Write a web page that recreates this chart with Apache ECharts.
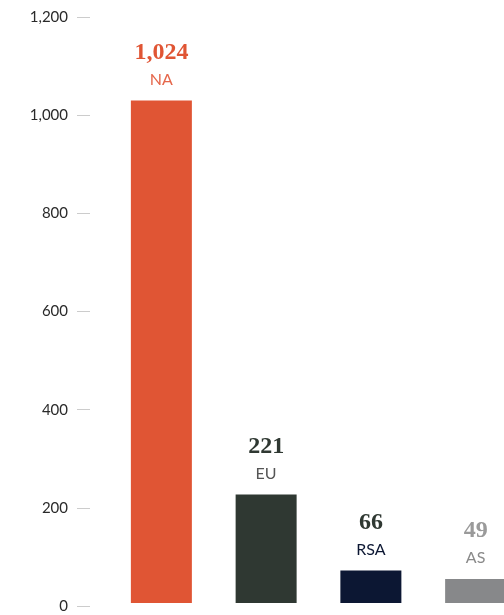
<!DOCTYPE html>
<html>
<head>
<meta charset="utf-8">
<script src="https://cdn.jsdelivr.net/npm/echarts@6/dist/echarts.min.js"></script>
<style>html,body{margin:0;padding:0;background:#fff}#c{width:504px;height:615px}</style>
</head>
<body>
<div id="c"></div>
<script>
var categories = ['NA', 'EU', 'RSA', 'AS'];
var values = [1024, 221, 66, 49];
var barColors = ['#E05534', '#2F3832', '#0C1733', '#87888A'];
var valueColors = ['#E05534', '#2F3832', '#2F3832', '#9A9A9A'];
var nameColors = ['#E5664A', '#555555', '#0C1733', '#8A8A8A'];
var yMin = 0, yMax = 1200, yStep = 200;

var rich = {};
categories.forEach(function (c, i) {
  rich['v' + i] = { fontFamily: 'Liberation Serif', fontWeight: 'bold', fontSize: 24, color: valueColors[i], lineHeight: 28, align: 'center' };
  rich['c' + i] = { fontFamily: 'Lato', fontSize: 16, color: nameColors[i], lineHeight: 26, align: 'center' };
});

var chart = echarts.init(document.getElementById('c'), null, { renderer: 'canvas' });
chart.setOption({
  animation: false,
  grid: [
    { left: 109, width: 419, top: 14, bottom: 12, outerBoundsMode: 'none', containLabel: false },
    { left: 90, right: 10, top: 17, bottom: 9 }
  ],
  xAxis: [
    { type: 'category', gridIndex: 0, data: categories, show: false },
    { type: 'value', gridIndex: 1, show: false, min: 0, max: 1 }
  ],
  yAxis: [
    { type: 'value', gridIndex: 0, min: yMin, max: yMax, interval: yStep, show: false },
    {
      type: 'value', gridIndex: 1, min: yMin, max: yMax, interval: yStep,
      axisLine: { show: false },
      axisTick: { show: true, length: 13, lineStyle: { color: '#cccccc', width: 1 } },
      splitLine: { show: false },
      axisLabel: {
        margin: 22, fontFamily: 'Lato', fontSize: 15, color: '#2a2a2a',
        formatter: function (v) { return v.toLocaleString('en-US'); }
      }
    }
  ],
  series: [{
    type: 'bar',
    xAxisIndex: 0, yAxisIndex: 0,
    barWidth: 61,
    data: values.map(function (v, i) {
      return { value: v, itemStyle: { color: barColors[i] } };
    }),
    label: {
      show: true, position: 'top', distance: 8,
      rich: rich,
      formatter: function (p) {
        return '{v' + p.dataIndex + '|' + p.value.toLocaleString('en-US') + '}\n{c' + p.dataIndex + '|' + p.name + '}';
      }
    }
  }]
});
</script>
</body>
</html>
